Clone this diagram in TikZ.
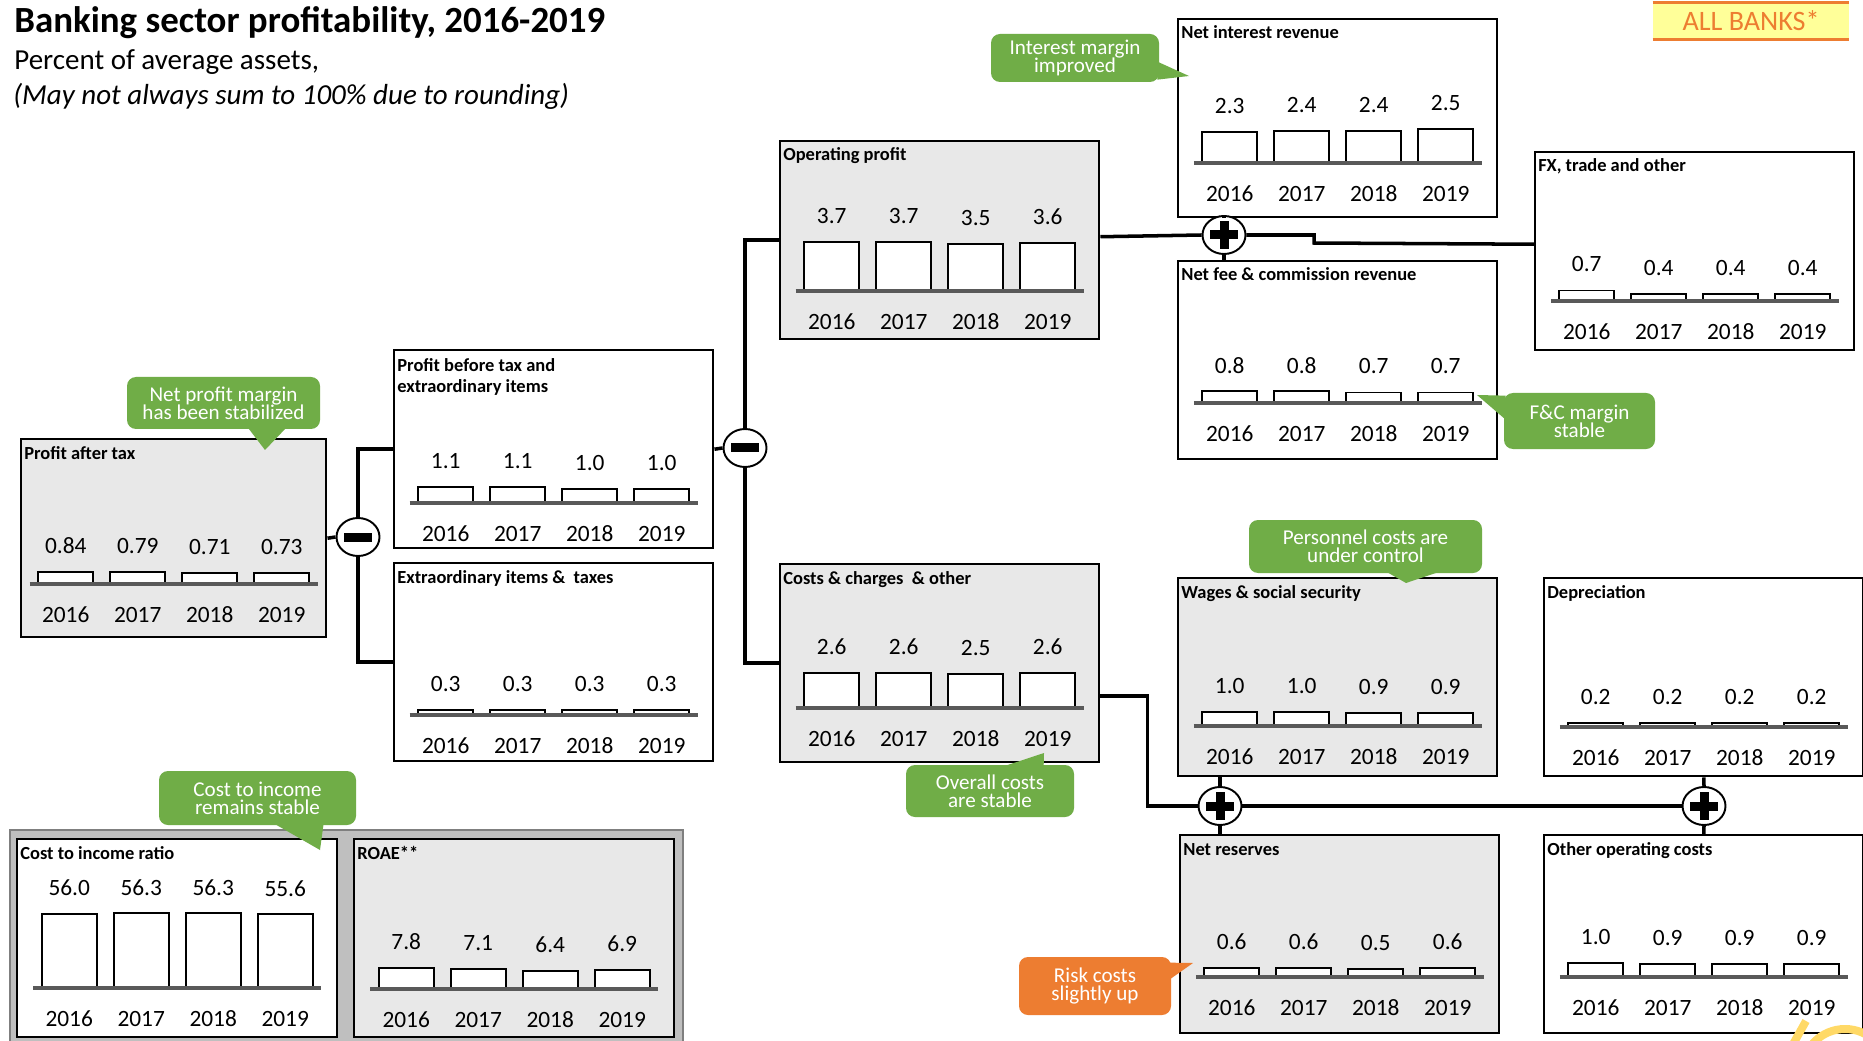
\documentclass[tikz,border=0pt]{standalone}
\usepackage{fontspec}
\setmainfont{Carlito}
\usepackage{tikz}
\usetikzlibrary{calc,shapes.geometric}
\definecolor{panelgray}{HTML}{E8E8E8}
\definecolor{framegray}{HTML}{BFBFBF}
\definecolor{framedark}{HTML}{7F7F7F}
\definecolor{basegray}{HTML}{595959}
\definecolor{notegreen}{HTML}{70AD47}
\definecolor{noteorange}{HTML}{ED7D31}
\definecolor{bannerfill}{HTML}{FFFF99}
\definecolor{logoyellow}{HTML}{FFD966}
\tikzset{%
  panel/.style={%
    draw, line width=1.4pt, fill=white, anchor=north west,
    minimum width=63.8mm, minimum height=39.6mm, inner sep=0pt
  },
  shaded panel/.style={panel, fill=panelgray},
  panel title/.style={font=\bfseries\fontsize{10.5}{12}\selectfont, inner sep=0pt, align=left},
  chart text/.style={font=\fontsize{13.3}{15}\selectfont, inner sep=0pt},
  chart bar/.style={draw, fill=white, line width=1.1pt},
  chart base/.style={draw=basegray, line width=1.8pt},
  link/.style={line width=2pt},
  sumsign/.style={%
    ellipse, draw, fill=white, line width=1.1pt,
    minimum width=8.6mm, minimum height=7.6mm, inner sep=0pt
  },
  plussign/.style={sumsign, path picture={%
    \fill[black] ($(path picture bounding box.center)+(-14,-4.5)$) rectangle +(28,9);
    \fill[black] ($(path picture bounding box.center)+(-4.5,-14)$) rectangle +(9,28);}},
  minussign/.style={sumsign, path picture={%
    \fill[black] ($(path picture bounding box.center)+(-14,-4.5)$) rectangle +(28,9);}},
  remark/.style={%
    fill=notegreen, rounded corners=1.8mm, text=white, align=center,
    inner sep=0pt, font=\fontsize{12}{10.4}\selectfont
  }
}
\newcommand\minichart[4]{%
  \foreach \val [count=\idx] in {#4} {
    \pgfmathsetmacro\barx{72*\idx-180}
    \pgfmathsetmacro\bartop{#2-1.5-\val*#3}
    \draw[chart bar] ($(#1.north)+(\barx-27.5,#2)$) rectangle ($(#1.north)+(\barx+27.5,\bartop)$);
    \node[chart text] (#1v\idx) at ($(#1.north)+(\barx,\bartop-26)$) {\val};
    \node[chart text] (#1y\idx) at ($(#1.north)+(\barx,#2+31)$) {\the\numexpr2015+\idx\relax};
  }
  \draw[chart base] ($(#1.north)+(-144,#2)$) -- ($(#1.north)+(144,#2)$);
}

\begin{document}
\begin{tikzpicture}[x=0.2mm, y=-0.2mm]
  \path[use as bounding box, fill=white] (0,0) rectangle (1863,1041);

  \node[anchor=base west, inner sep=0pt, font=\bfseries\fontsize{21}{24}\selectfont] (title) at (14,33) {Banking sector profitability, 2016-2019};
  \node[anchor=base west, inner sep=0pt, font=\fontsize{16.5}{19}\selectfont] (unit) at (14,70) {Percent of average assets,};
  \node[anchor=base west, inner sep=0pt, font=\itshape\fontsize{16.5}{19}\selectfont] (caveat) at (13,105) {(May not always sum to 100\% due to rounding)};

  \node[fill=bannerfill, minimum width=39.2mm, minimum height=7.2mm, inner sep=0pt, text=noteorange, font=\fontsize{16}{18}\selectfont] (banner) at (1751,21) {ALL BANKS*};
  \draw[noteorange, line width=1.5pt] (banner.north west) -- (banner.north east) (banner.south west) -- (banner.south east);

  \node[shaded panel, minimum width=61mm] (pat) at (20,438) {};
  \node[panel] (pbt) at (393,349) {};
  \node[panel] (ext) at (393,562) {};
  \node[shaded panel] (op) at (779,140) {};
  \node[shaded panel] (cost) at (779,563) {};
  \node[panel] (nii) at (1177,18) {};
  \node[panel] (fee) at (1177,260) {};
  \node[panel] (fx) at (1534,151) {};
  \node[shaded panel] (wages) at (1177,577) {};
  \node[panel] (depr) at (1543,577) {};
  \node[shaded panel] (res) at (1179,834) {};
  \node[panel] (other) at (1543,834) {};
  \node[draw=framedark, fill=framegray, line width=1.4pt, anchor=north west, minimum width=134.6mm, minimum height=44mm, inner sep=0pt] (kpis) at (9,829) {};
  \node[panel, minimum width=64mm] (cir) at (16,838) {};
  \node[shaded panel, minimum width=64mm] (roae) at (353,838) {};

  \node[panel title, anchor=base west] (pattitle) at ($(pat.north west)+(4,21)$) {Profit after tax};
  \node[panel title, anchor=north west] (pbttitle) at ($(pbt.north west)+(4,9)$) {Profit before tax and\\extraordinary items};
  \node[panel title, anchor=base west] (exttitle) at ($(ext.north west)+(4,21)$) {Extraordinary items \&\ \ taxes};
  \node[panel title, anchor=base west] (optitle) at ($(op.north west)+(4,21)$) {Operating profit};
  \node[panel title, anchor=base west] (costtitle) at ($(cost.north west)+(4,21)$) {Costs \& charges\ \ \& other};
  \node[panel title, anchor=base west] (niititle) at ($(nii.north west)+(4,21)$) {Net interest revenue};
  \node[panel title, anchor=base west] (feetitle) at ($(fee.north west)+(4,21)$) {Net fee \& commission revenue};
  \node[panel title, anchor=base west] (fxtitle) at ($(fx.north west)+(4,21)$) {FX, trade and other};
  \node[panel title, anchor=base west] (wagestitle) at ($(wages.north west)+(4,21)$) {Wages \& social security};
  \node[panel title, anchor=base west] (deprtitle) at ($(depr.north west)+(4,21)$) {Depreciation};
  \node[panel title, anchor=base west] (restitle) at ($(res.north west)+(4,21)$) {Net reserves};
  \node[panel title, anchor=base west] (othertitle) at ($(other.north west)+(4,21)$) {Other operating costs};
  \node[panel title, anchor=base west] (cirtitle) at ($(cir.north west)+(4,21)$) {Cost to income ratio};
  \node[panel title, anchor=base west] (roaetitle) at ($(roae.north west)+(4,21)$) {ROAE**};

  \minichart{pat}{146}{12.9}{0.84,0.79,0.71,0.73}
  \minichart{pbt}{154}{12.9}{1.1,1.1,1.0,1.0}
  \minichart{ext}{153}{12.9}{0.3,0.3,0.3,0.3}
  \minichart{op}{151}{12.9}{3.7,3.7,3.5,3.6}
  \minichart{cost}{145}{12.9}{2.6,2.6,2.5,2.6}
  \minichart{nii}{145}{12.9}{2.3,2.4,2.4,2.5}
  \minichart{fee}{143}{12.9}{0.8,0.8,0.7,0.7}
  \minichart{fx}{150}{12.9}{0.7,0.4,0.4,0.4}
  \minichart{wages}{149}{12.9}{1.0,1.0,0.9,0.9}
  \minichart{depr}{150}{12.9}{0.2,0.2,0.2,0.2}
  \minichart{res}{143}{12.9}{0.6,0.6,0.5,0.6}
  \minichart{other}{143}{12.9}{1.0,0.9,0.9,0.9}
  \minichart{cir}{150}{1.3}{56.0,56.3,56.3,55.6}
  \minichart{roae}{151}{2.55}{7.8,7.1,6.4,6.9}

  \node[minussign] (minus1) at (358,537) {};
  \node[minussign] (minus2) at (745,448) {};
  \node[plussign] (plus1) at (1224,235) {};
  \node[plussign] (plus2) at (1220,806) {};
  \node[plussign] (plus3) at (1704,806) {};
  \coordinate (opout) at ($(op.east)+(0,-3.5)$);
  \coordinate (fxstep) at (1314,243);
  \coordinate (fxin) at ($(fx.west)+(0,-7)$);
  \coordinate (costout) at ($(cost.east)+(0,33)$);

  \draw[link] (pat.east) -- (minus1.west);
  \draw[link] (minus1.north) |- (pbt.west);
  \draw[link] (minus1.south) |- (ext.west);
  \draw[link] (pbt.east) -- (minus2.west);
  \draw[link] (minus2.north) |- (op.west);
  \draw[link] (minus2.south) |- (cost.west);
  \draw[link] (opout) -- (plus1.west);
  \draw[link] (plus1.east) -| (fxstep) -- (fxin);
  \draw[link] (plus1.north) -- (plus1.north |- nii.south);
  \draw[link] (plus1.south) -- (plus1.south |- fee.north);
  \draw[link] (costout) -- ++(47,0) |- (plus2.west);
  \draw[link] (plus2.east) -- (plus3.west);
  \draw[link] (plus2.north) -- (plus2.north |- wages.south);
  \draw[link] (plus2.south) -- (plus2.south |- res.north);
  \draw[link] (plus3.north) -- (depr.south);
  \draw[link] (plus3.south) -- (other.north);

  \node[remark, minimum width=38.6mm, minimum height=10.4mm] (npm) at (223.5,403) {Net profit margin\\has been stabilized};
  \coordinate (npmtip) at (265,450);
  \fill[notegreen] ($(npm.south west)+(121,-2)$) -- (npmtip) -- ($(npm.south west)+(160,-2)$) -- cycle;

  \node[remark, minimum width=33.6mm, minimum height=9.6mm] (imi) at (1075,58) {Interest margin\\improved};
  \coordinate (imitip) at (1189,76);
  \fill[notegreen] ($(imi.north east)+(-2,28)$) -- (imitip) -- ($(imi.north east)+(-2,46)$) -- cycle;

  \node[remark, minimum width=30.2mm, minimum height=11.2mm] (fcm) at (1579.5,421) {F\&C margin\\stable};
  \coordinate (fcmtip) at (1477,395);
  \fill[notegreen] ($(fcm.north west)+(2,3)$) -- (fcmtip) -- ($(fcm.north west)+(2,27)$) -- cycle;

  \node[remark, minimum width=46.6mm, minimum height=10.6mm] (pcc) at (1365.5,546.5) {Personnel costs are\\under control};
  \coordinate (pcctip) at (1406,583);
  \fill[notegreen] ($(pcc.south west)+(137,-2)$) -- (pcctip) -- ($(pcc.south west)+(192,-2)$) -- cycle;

  \node[remark, minimum width=33.6mm, minimum height=10.4mm] (ocs) at (990,791) {Overall costs\\are stable};
  \coordinate (ocstip) at (1044,753);
  \fill[notegreen] ($(ocs.north west)+(97,2)$) -- (ocstip) -- ($(ocs.north west)+(138,2)$) -- cycle;

  \node[remark, minimum width=39.4mm, minimum height=10.8mm] (cis) at (257.5,798) {Cost to income\\remains stable};
  \coordinate (cistip) at (320,850);
  \fill[notegreen] ($(cis.south west)+(115,-2)$) -- (cistip) -- ($(cis.south west)+(165,-2)$) -- cycle;

  \node[remark, fill=noteorange, minimum width=30.4mm, minimum height=11.6mm] (rcu) at (1095,986) {Risk costs\\slightly up};
  \coordinate (rcutip) at (1193,963);
  \fill[noteorange] ($(rcu.north east)+(-2,6)$) -- (rcutip) -- ($(rcu.north east)+(-2,23)$) -- cycle;

  \draw[logoyellow, line width=1.6mm] (1792,1046) -- (1806,1021);
  \draw[logoyellow, line width=1.6mm] (1845,1072) circle[radius=8.6mm];
\end{tikzpicture}
\end{document}
